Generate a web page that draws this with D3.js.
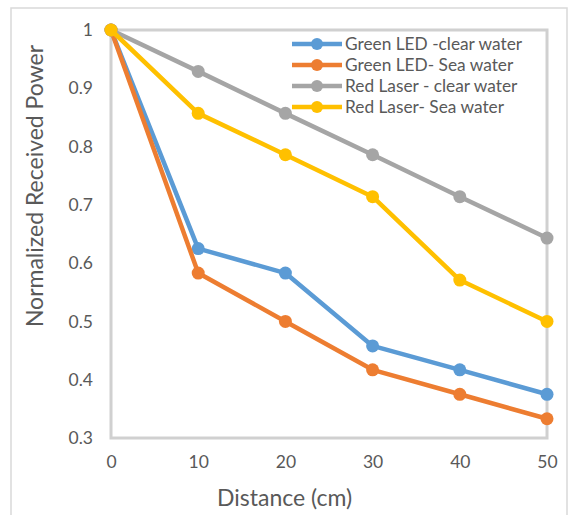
<!DOCTYPE html>
<html><head><meta charset="utf-8">
<script src="https://cdn.jsdelivr.net/npm/d3@7"></script>
<style>body{margin:0;background:#fff}svg{display:block;font-family:Lato,"Open Sans",sans-serif}</style>
</head><body>
<svg id="c" width="571" height="515"></svg>
<script>
const distances = [0, 10, 20, 30, 40, 50];
const seriesNames = ["Green LED -clear water", "Green LED- Sea water", "Red Laser - clear water", "Red Laser- Sea water"];
const greenClear = [1, 0.625, 0.583, 0.458, 0.417, 0.375];
const greenSea = [1, 0.583, 0.5, 0.417, 0.375, 0.333];
const redClear = [1, 0.929, 0.857, 0.786, 0.714, 0.643];
const redSea = [1, 0.857, 0.786, 0.714, 0.571, 0.5];
const colors = ["#5B9BD5", "#ED7D31", "#A5A5A5", "#FFC000"];
const yTicks = [0.3, 0.4, 0.5, 0.6, 0.7, 0.8, 0.9, 1];
const xTicks = [0, 10, 20, 30, 40, 50];

(function () {
const allSeries = [greenClear, greenSea, redClear, redSea];
const svg = d3.select("#c");
const pl = 111, pr = 547, pt = 30, pb = 438;
const x = d3.scaleLinear().domain([0, 50]).range([pl, pr]);
const y = d3.scaleLinear().domain([0.3, 1]).range([pb, pt]);
const txt = "#595959";

svg.append("rect").attr("x", 11).attr("y", 8).attr("width", 556).attr("height", 520)
  .attr("fill", "none").attr("stroke", "#d9d9d9").attr("stroke-width", 1.5);

svg.append("rect").attr("x", pl).attr("y", pt).attr("width", pr - pl).attr("height", pb - pt)
  .attr("fill", "none").attr("stroke", "#d0d0d0").attr("stroke-width", 3);

const yAxis = d3.axisLeft(y).tickValues(yTicks).tickSize(0).tickPadding(18).tickFormat(d => d3.format("")(d));
const gy = svg.append("g").attr("transform", `translate(${pl},0)`).call(yAxis);
gy.select(".domain").remove();
gy.selectAll("text").attr("fill", txt).attr("font-size", 17.5).attr("font-family", "Lato, 'Open Sans', sans-serif");

const xAxis = d3.axisBottom(x).tickValues(xTicks).tickSize(0).tickPadding(18);
const gx = svg.append("g").attr("transform", `translate(0,${pb})`).call(xAxis);
gx.select(".domain").remove();
gx.selectAll("text").attr("fill", txt).attr("font-size", 17.5).attr("font-family", "Lato, 'Open Sans', sans-serif");

svg.append("text").attr("x", 217).attr("y", 506).attr("text-anchor", "start")
  .attr("fill", txt).attr("font-size", 23).text("Distance (cm)");
svg.append("text").attr("transform", "translate(43,186) rotate(-90)").attr("text-anchor", "middle")
  .attr("fill", txt).attr("font-size", 23).text("Normalized Received Power");

svg.append("rect").attr("x", 288).attr("y", 33).attr("width", 257).attr("height", 82).attr("fill", "#fff");

const line = d3.line().x((d, i) => x(distances[i])).y(d => y(d));
allSeries.forEach((s, k) => {
  const g = svg.append("g");
  g.append("path").datum(s).attr("d", line).attr("fill", "none").attr("stroke", colors[k])
    .attr("stroke-width", 4.5).attr("stroke-linejoin", "round");
  g.selectAll("circle").data(s).join("circle").attr("cx", (d, i) => x(distances[i])).attr("cy", d => y(d))
    .attr("r", 6.5).attr("fill", colors[k]);
});

const lg = svg.append("g");
seriesNames.forEach((n, k) => {
  const yy = 44 + k * 21;
  lg.append("line").attr("x1", 292).attr("x2", 342).attr("y1", yy).attr("y2", yy)
    .attr("stroke", colors[k]).attr("stroke-width", 4.5);
  lg.append("circle").attr("cx", 317).attr("cy", yy).attr("r", 6).attr("fill", colors[k]);
  lg.append("text").attr("x", 345).attr("y", yy).attr("dy", "0.35em").attr("fill", txt)
    .attr("font-size", 17.3).text(n);
});
})();
</script>
</body></html>
